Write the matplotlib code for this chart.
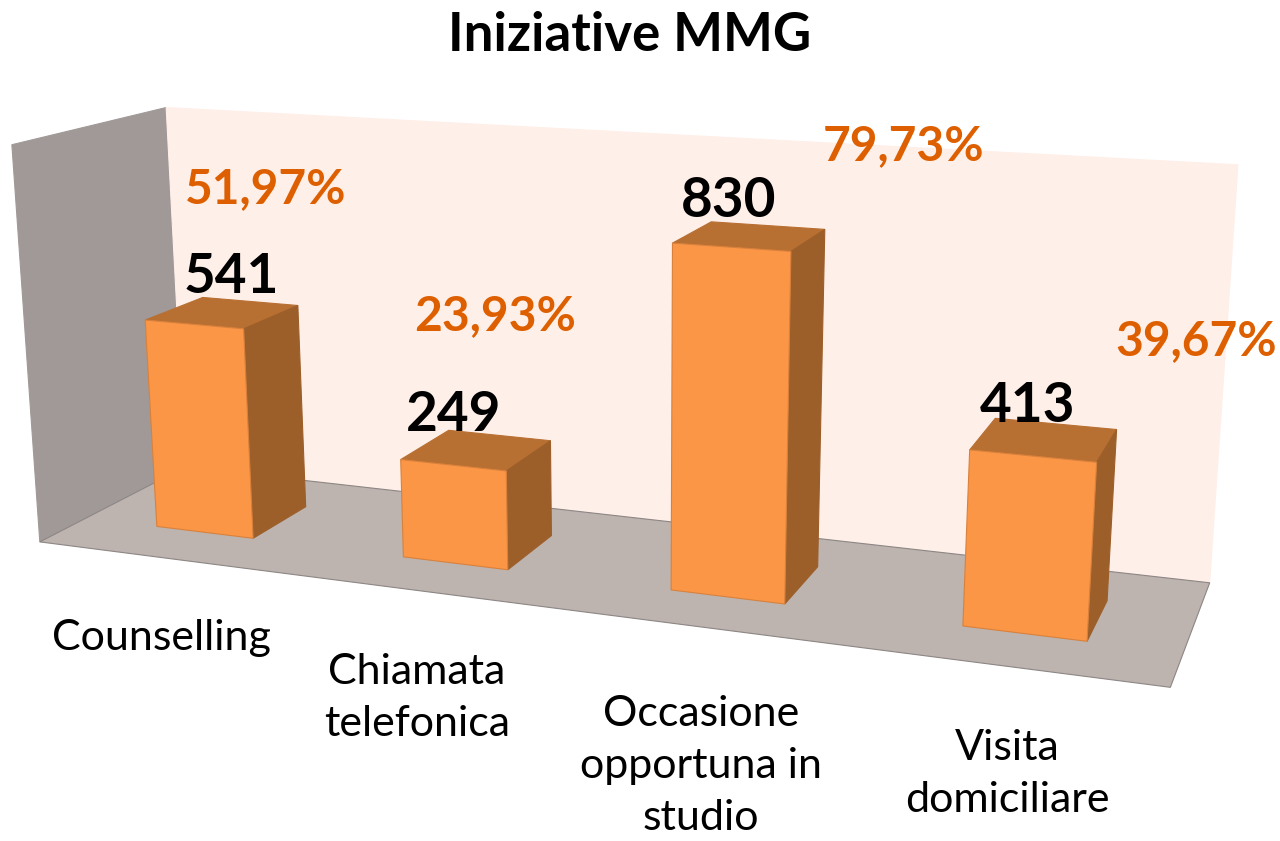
import matplotlib
matplotlib.use("Agg")
import matplotlib.pyplot as plt
import numpy as np

title = "Iniziative MMG"
categories = ["Counselling", "Chiamata\ntelefonica", "Occasione\nopportuna in\nstudio", "Visita\ndomiciliare"]
values = [541, 249, 830, 413]
percents = ["51,97%", "23,93%", "79,73%", "39,67%"]

# label positions, hand placed like in the original
value_pos = [(231, 277), (454, 415), (729, 201), (1028, 406)]
percent_pos = [(266, 189), (495, 316), (904, 146), (1196, 341)]
category_pos = [(161, 638), (417, 698), (701, 766), (1007, 774)]

# room corners: world (x, depth, z) -> where they land on the image
z_max = 1000
world = [(0, 0, 0), (0, 1, 0), (4, 1, 0), (4, 0, 0), (0, 1, z_max), (4, 1, z_max), (0, 0, z_max)]
image = [(40, 542), (185, 467), (1210, 582), (1170, 688), (166, 108), (1238, 165), (12, 144)]


def fit_camera(world, image):
    rows = []
    for (x, y, z), (u, v) in zip(world, image):
        rows.append([x, y, z / z_max, 1, 0, 0, 0, 0, -u * x, -u * y, -u * z / z_max, -u])
        rows.append([0, 0, 0, 0, x, y, z / z_max, 1, -v * x, -v * y, -v * z / z_max, -v])
    return np.linalg.svd(np.array(rows, dtype=float))[2][-1].reshape(3, 4)


cam = fit_camera(world, image)


def project(x, y, z):
    p = cam @ np.array([x, y, z / z_max, 1.0])
    return p[0] / p[2], p[1] / p[2]


plt.rcParams["font.family"] = ["Lato", "DejaVu Sans"]
fig = plt.figure(figsize=(12.8, 8.41), dpi=100)
ax = fig.add_axes([0, 0, 1, 1])
ax.set_xlim(0, 1280)
ax.set_ylim(841, 0)
ax.axis("off")


def face(corners, color, edge=None, z=1):
    ax.fill(*zip(*[project(*c) for c in corners]), facecolor=color, edgecolor=edge or color, linewidth=0.8, zorder=z)


# walls and floor
face([(0, 0, 0), (0, 1, 0), (0, 1, z_max), (0, 0, z_max)], "#a09997")
face([(0, 1, 0), (4, 1, 0), (4, 1, z_max), (0, 1, z_max)], "#ffefe9")
face([(0, 0, 0), (4, 0, 0), (4, 1, 0), (0, 1, 0)], "#bdb3af", "#8c8684")

# bars
bar_w = 0.4
y0, y1 = 0.3, 0.7
for i, v in enumerate(values):
    x0, x1 = i + 0.5 - bar_w / 2, i + 0.5 + bar_w / 2
    face([(x0, y0, v), (x1, y0, v), (x1, y1, v), (x0, y1, v)], "#b86f32", z=2)
    face([(x1, y0, 0), (x1, y1, 0), (x1, y1, v), (x1, y0, v)], "#9c5f2a", z=2)
    face([(x0, y0, 0), (x1, y0, 0), (x1, y0, v), (x0, y0, v)], "#fa9646", "#d9813c", z=2)

for v, (x, y) in zip(values, value_pos):
    ax.text(x, y, str(v), fontsize=39.5, fontweight="bold", ha="center", va="center", color="black", zorder=5)
for p, (x, y) in zip(percents, percent_pos):
    ax.text(x, y, p, fontsize=34.5, fontweight="bold", ha="center", va="center", color="#dd5f00", zorder=5)
for c, (x, y) in zip(categories, category_pos):
    ax.text(x, y, c, fontsize=31, ha="center", va="center", color="black", linespacing=1.45, zorder=5)

ax.text(630, 35, title, fontsize=38, fontweight="bold", ha="center", va="center", color="black", zorder=5)
plt.savefig("out.png", dpi=100)
